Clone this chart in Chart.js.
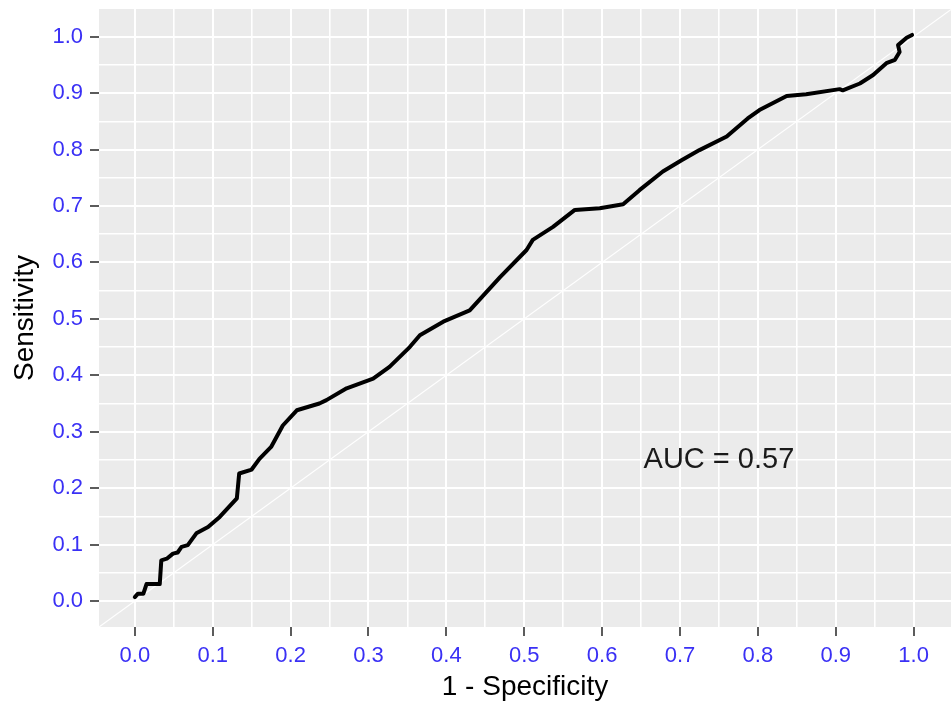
<!DOCTYPE html>
<html><head><meta charset="utf-8">
<script src="https://cdn.jsdelivr.net/npm/chart.js@4/dist/chart.umd.min.js"></script>
<style>html,body{margin:0;padding:0;background:#fff}#wrap{width:951px;height:704px}</style>
</head><body><div id="wrap"><canvas id="c" width="951" height="704" style="width:951px;height:704px"></canvas></div>
<script>
// ROC curve: 1 - Specificity (x) vs Sensitivity (y)
const fpr = [0.000,0.004,0.011,0.015,0.032,0.034,0.041,0.049,0.055,0.060,0.068,0.079,0.094,0.109,0.131,0.134,0.150,0.160,0.175,0.190,0.208,0.237,0.246,0.272,0.306,0.327,0.353,0.366,0.396,0.430,0.469,0.503,0.511,0.537,0.565,0.597,0.627,0.648,0.678,0.702,0.725,0.760,0.787,0.802,0.837,0.862,0.905,0.909,0.931,0.948,0.965,0.976,0.982,0.980,0.991,0.998];
const tpr = [0.007,0.013,0.013,0.030,0.030,0.072,0.075,0.084,0.086,0.096,0.099,0.120,0.131,0.149,0.182,0.226,0.233,0.252,0.273,0.311,0.338,0.350,0.356,0.377,0.394,0.415,0.450,0.471,0.495,0.515,0.574,0.622,0.640,0.663,0.693,0.696,0.703,0.728,0.761,0.781,0.799,0.823,0.855,0.870,0.895,0.898,0.907,0.905,0.917,0.932,0.953,0.959,0.973,0.985,0.998,1.003];
// reference diagonal (chance line)
const diagX = [-0.05, 1.05];
const diagY = [-0.05, 1.05];
// axis ticks
const majorTicks = [0.0,0.1,0.2,0.3,0.4,0.5,0.6,0.7,0.8,0.9,1.0];
const tickLabels = ['0.0','0.1','0.2','0.3','0.4','0.5','0.6','0.7','0.8','0.9','1.0'];
const minorTicks = [0.05,0.15,0.25,0.35,0.45,0.55,0.65,0.75,0.85,0.95];
// annotation
const aucText = 'AUC = 0.57';
const aucX = 0.75;
const aucY = 0.25;

const FONT = '"Liberation Sans", Arial, sans-serif';
const allTicks = majorTicks.concat(minorTicks).sort((a,b)=>a-b);
const isMajor = v => majorTicks.some(m => Math.abs(m - v) < 1e-6);
const labelFor = v => { const i = majorTicks.findIndex(m => Math.abs(m - v) < 1e-6); return i >= 0 ? tickLabels[i] : ''; };

const rocPoints = fpr.map((x,i)=>({x:x, y:tpr[i]}));
const diagPoints = diagX.map((x,i)=>({x:x, y:diagY[i]}));

const bgPlugin = {
  id:'panelBg',
  beforeDraw(chart){
    const {ctx, chartArea:a} = chart;
    ctx.save(); ctx.fillStyle = '#EBEBEB';
    ctx.fillRect(a.left, a.top, a.right-a.left, a.bottom-a.top);
    ctx.restore();
  }
};
const aucPlugin = {
  id:'auc',
  afterDatasetsDraw(chart){
    const {ctx, scales} = chart;
    ctx.save();
    ctx.font = '29px ' + FONT;
    ctx.fillStyle = '#1a1a1a';
    ctx.textAlign = 'center'; ctx.textBaseline = 'middle';
    ctx.fillText(aucText, scales.x.getPixelForValue(aucX), scales.y.getPixelForValue(aucY));
    ctx.restore();
  }
};

function gridOpts(){
  return {
    color:'#FFFFFF',
    lineWidth: c => isMajor(c.tick.value) ? 2 : 1.6,
    tickColor: c => isMajor(c.tick.value) ? '#333333' : 'rgba(0,0,0,0)',
    tickLength: 9,
    tickWidth: 1.6,
    drawTicks: true
  };
}
function tickOpts(){
  return {
    color:'#3a30f5',
    font:{family:FONT, size:22},
    padding:7,
    autoSkip:false, maxRotation:0, minRotation:0,
    callback: v => labelFor(v)
  };
}

new Chart(document.getElementById('c'), {
  type:'scatter',
  data:{datasets:[
    {data:rocPoints, showLine:true, borderColor:'#000000', borderWidth:4, pointRadius:0, tension:0, borderJoinStyle:'round', borderCapStyle:'round'},
    {data:diagPoints, showLine:true, borderColor:'rgba(255,255,255,0.95)', borderWidth:1.2, pointRadius:0, tension:0}
  ]},
  options:{
    responsive:false, animation:false, devicePixelRatio:1,
    layout:{padding:{top:9,left:0,right:0,bottom:0}},
    plugins:{legend:{display:false}, tooltip:{enabled:false}},
    scales:{
      x:{
        type:'linear', min:-0.046, max:1.048,
        afterBuildTicks: s => { s.ticks = allTicks.map(v=>({value:v})); },
        afterFit: s => { s.height = 77; s.paddingLeft = 0; s.paddingRight = 0; },
        grid:gridOpts(), border:{display:false}, ticks:tickOpts(),
        title:{display:true, text:'1 - Specificity', color:'#000', font:{family:FONT, size:28}, padding:{top:0,bottom:0}}
      },
      y:{
        type:'linear', min:-0.046, max:1.049,
        afterBuildTicks: s => { s.ticks = allTicks.map(v=>({value:v})); },
        afterFit: s => { s.width = 99; s.paddingTop = 0; s.paddingBottom = 0; },
        grid:gridOpts(), border:{display:false}, ticks:tickOpts(),
        title:{display:true, text:'Sensitivity', color:'#000', font:{family:FONT, size:28}, padding:{top:8,bottom:0}}
      }
    }
  },
  plugins:[bgPlugin, aucPlugin]
});
</script></body></html>
